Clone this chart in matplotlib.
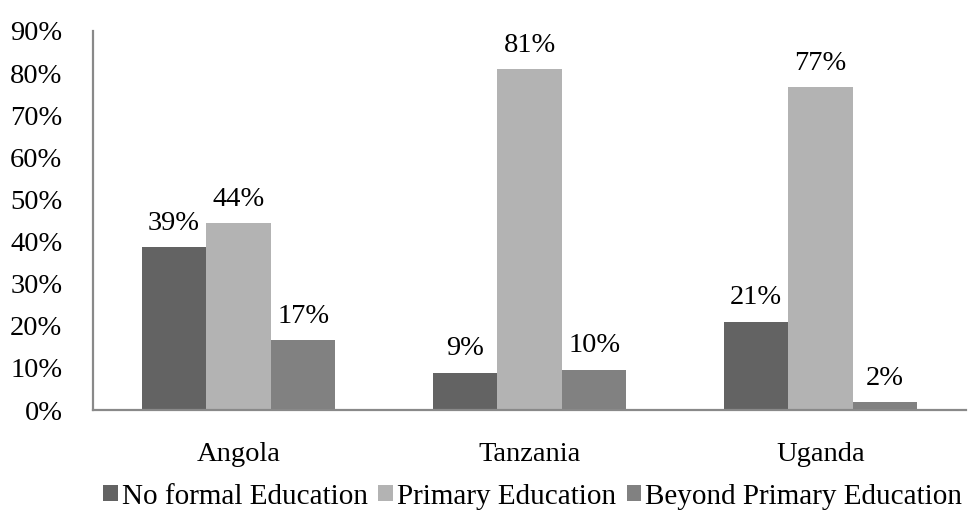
import numpy as np
import matplotlib
matplotlib.use("Agg")
import matplotlib.pyplot as plt

# data
countries = ["Angola", "Tanzania", "Uganda"]
no_formal = [38.8, 8.9, 21.0]
primary = [44.4, 81.0, 76.7]
beyond = [16.6, 9.6, 1.8]
series_names = ["No formal Education", "Primary Education", "Beyond Primary Education"]
colors = ["#636363", "#b3b3b3", "#818181"]
yticks = [0, 10, 20, 30, 40, 50, 60, 70, 80, 90]

plt.rcParams["font.family"] = ["Liberation Serif", "DejaVu Serif"]
FS = 20.5
AXIS_GRAY = "#898989"

fig = plt.figure(figsize=(9.74, 5.14), dpi=100)
ax = fig.add_axes([0.0955, 0.2023, 0.8963, 0.7374])

x = np.arange(len(countries))
w = 0.222
for i, (vals, name, col) in enumerate(zip([no_formal, primary, beyond], series_names, colors)):
    pos = x + (i - 1) * w
    bars = ax.bar(pos, vals, width=w, color=col, label=name, zorder=2)
    for b, v in zip(bars, vals):
        ax.annotate(f"{round(v):d}%", xy=(b.get_x() + b.get_width() / 2, v),
                    xytext=(0, 8), textcoords="offset points",
                    ha="center", va="bottom", fontsize=FS, color="black")

ax.set_xlim(-0.5, 2.5)
ax.set_ylim(0, 90)
ax.set_yticks(yticks)
ax.set_yticklabels([f"{t}%" for t in yticks], fontsize=FS)
ax.set_xticks(x)
ax.set_xticklabels(countries, fontsize=FS)
ax.tick_params(axis="y", length=0, pad=22)
ax.tick_params(axis="x", length=0, pad=23)

for s in ["top", "right"]:
    ax.spines[s].set_visible(False)
for s in ["left", "bottom"]:
    ax.spines[s].set_color(AXIS_GRAY)
    ax.spines[s].set_linewidth(1.6)

fig.legend(loc="center", bbox_to_anchor=(0.547, 0.034), ncol=3, frameon=False,
           fontsize=21, handlelength=0.5, handleheight=0.5, handletextpad=0.15,
           columnspacing=0.35, borderpad=0)

fig.savefig("out.png", dpi=100)
